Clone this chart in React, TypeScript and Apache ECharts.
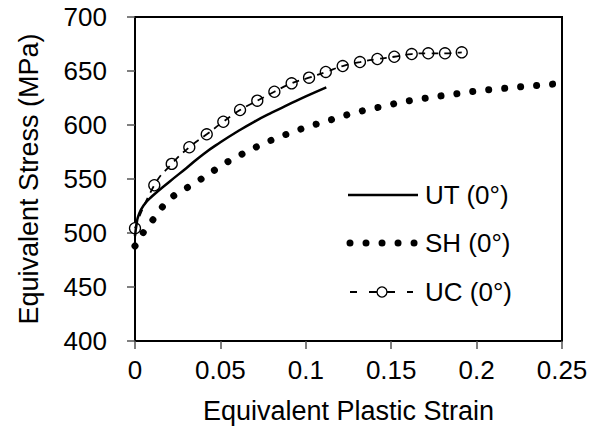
import React, { useEffect, useRef } from "react";
import * as echarts from "echarts";

const xTicks = [0, 0.05, 0.1, 0.15, 0.2, 0.25];
const yTicks = [400, 450, 500, 550, 600, 650, 700];

const utStrain = [0, 0.001, 0.002, 0.005, 0.01, 0.02, 0.03, 0.04, 0.05, 0.06, 0.07, 0.08, 0.09, 0.1, 0.112];
const utStress = [497, 509, 516, 525.5, 534, 547.3, 560, 573, 584, 594, 603.2, 611.4, 619, 626.5, 634.9];

const shStrain = [0, 0.001, 0.0055, 0.0113, 0.017, 0.0238, 0.0322, 0.0402, 0.0478, 0.0552, 0.0638, 0.0726, 0.081, 0.0902, 0.0989, 0.1079, 0.1169, 0.1259, 0.1352, 0.1444, 0.1538, 0.163, 0.1723, 0.1815, 0.1909, 0.2002, 0.2098, 0.2192, 0.2285, 0.2379, 0.2473, 0.25];
const shStress = [488, 490, 502, 513.9, 525.9, 535.8, 543.5, 551.5, 559.5, 566.8, 574, 580.8, 586.7, 592.3, 597.2, 601.6, 605.8, 610.2, 613.9, 617, 620.4, 623.1, 625.3, 627.5, 629.4, 631.5, 633.1, 634.3, 635.8, 637, 638.2, 638.5];

const ucStrain = [0, 0.0113, 0.0215, 0.0318, 0.042, 0.0517, 0.0615, 0.0716, 0.0816, 0.0917, 0.1019, 0.1117, 0.1216, 0.1317, 0.1419, 0.1518, 0.162, 0.1717, 0.1815, 0.1913];
const ucStress = [504.4, 544.2, 564, 579.4, 591.4, 603, 613.9, 622.5, 630.8, 638.6, 643.8, 649.1, 654.6, 658.3, 661.1, 663.2, 665.7, 666.4, 666.4, 667.3];

const seriesNames = ["UT (0°)", "SH (0°)", "UC (0°)"];

const FONT = "'Liberation Sans', Arial, sans-serif";

function pairs(xs: number[], ys: number[]) {
  return xs.map((x, i) => [x, ys[i]]);
}

const SH_DASH = [0.01, 16];
const UC_DASH = [7, 6];

function legendGraphics() {
  const rowsY = [195, 243, 292];
  const x0 = 348;
  const x1 = 418;
  const textX = 425;
  const els: any[] = [];
  els.push({
    type: "line",
    shape: { x1: x0, y1: rowsY[0], x2: x1, y2: rowsY[0] },
    style: { stroke: "#000", lineWidth: 2.5 },
  });
  els.push({
    type: "line",
    shape: { x1: 350, y1: rowsY[1], x2: 416, y2: rowsY[1] },
    style: { stroke: "#000", lineWidth: 7, lineDash: SH_DASH, lineCap: "round" },
  });
  els.push({
    type: "line",
    shape: { x1: 350, y1: rowsY[2], x2: 413, y2: rowsY[2] },
    style: { stroke: "#000", lineWidth: 2, lineDash: [7, 12] },
  });
  els.push({
    type: "line",
    shape: { x1: 370, y1: rowsY[2], x2: 394, y2: rowsY[2] },
    style: { stroke: "#000", lineWidth: 2 },
  });
  els.push({
    type: "circle",
    shape: { cx: 382, cy: rowsY[2], r: 5 },
    style: { fill: "#fff", stroke: "#000", lineWidth: 1.3 },
  });
  seriesNames.forEach((name, i) => {
    els.push({
      type: "text",
      x: textX,
      y: rowsY[i],
      style: {
        text: name,
        fontFamily: FONT,
        fontSize: 26,
        fill: "#000",
        verticalAlign: "middle",
        align: "left",
      },
    });
  });
  return els;
}

export default function App() {
  const ref = useRef<HTMLDivElement>(null);
  useEffect(() => {
    if (!ref.current) return;
    const chart = echarts.init(ref.current, undefined, { renderer: "svg" });
    chart.setOption({
      animation: false,
      backgroundColor: "#fff",
      grid: {
        left: 135,
        top: 17,
        right: 29,
        bottom: 100,
        show: true,
        borderColor: "#000",
        borderWidth: 2,
      },
      graphic: legendGraphics(),
      xAxis: {
        type: "value",
        min: xTicks[0],
        max: xTicks[xTicks.length - 1],
        interval: 0.05,
        name: "Equivalent Plastic Strain",
        nameLocation: "middle",
        nameGap: 56,
        nameTextStyle: { fontFamily: FONT, fontSize: 27, color: "#000" },
        axisLine: { show: true, onZero: false, lineStyle: { color: "#000", width: 2 } },
        axisTick: { show: true, inside: false, length: 8, lineStyle: { color: "#555", width: 1.5 } },
        axisLabel: { fontFamily: FONT, fontSize: 26, color: "#000", margin: 16 },
        splitLine: { show: false },
      },
      yAxis: {
        type: "value",
        min: yTicks[0],
        max: yTicks[yTicks.length - 1],
        interval: 50,
        name: "Equivalent Stress (MPa)",
        nameLocation: "middle",
        nameGap: 93,
        nameTextStyle: { fontFamily: FONT, fontSize: 27, color: "#000" },
        axisLine: { show: true, lineStyle: { color: "#000", width: 2 } },
        axisTick: { show: true, inside: false, length: 8, lineStyle: { color: "#555", width: 1.5 } },
        axisLabel: { fontFamily: FONT, fontSize: 26, color: "#000", margin: 28 },
        splitLine: { show: false },
      },
      series: [
        {
          name: seriesNames[0],
          type: "line",
          data: pairs(utStrain, utStress),
          symbol: "none",
          smooth: true,
          lineStyle: { color: "#000", width: 2.5 },
          itemStyle: { color: "#000" },
        },
        {
          name: seriesNames[1],
          type: "line",
          data: pairs(shStrain, shStress),
          symbol: "none",
          smooth: true,
          lineStyle: { color: "#000", width: 7, type: SH_DASH, cap: "round" },
          itemStyle: { color: "#000" },
        },
        {
          name: seriesNames[2],
          type: "line",
          data: pairs(ucStrain, ucStress),
          symbol: "circle",
          symbolSize: 11,
          smooth: true,
          z: 2,
          lineStyle: { opacity: 0 },
          itemStyle: { color: "#fff", borderColor: "#000", borderWidth: 1.3 },
        },
        {
          name: seriesNames[2] + " line",
          type: "line",
          data: pairs(ucStrain, ucStress),
          symbol: "none",
          smooth: true,
          z: 3,
          lineStyle: { color: "#000", width: 1.8, type: UC_DASH },
          itemStyle: { color: "#000" },
        },
      ],
    });
    return () => chart.dispose();
  }, []);
  return (
    <div
      ref={ref}
      style={{ position: "fixed", left: 0, top: 0, width: 591, height: 441 }}
    />
  );
}
